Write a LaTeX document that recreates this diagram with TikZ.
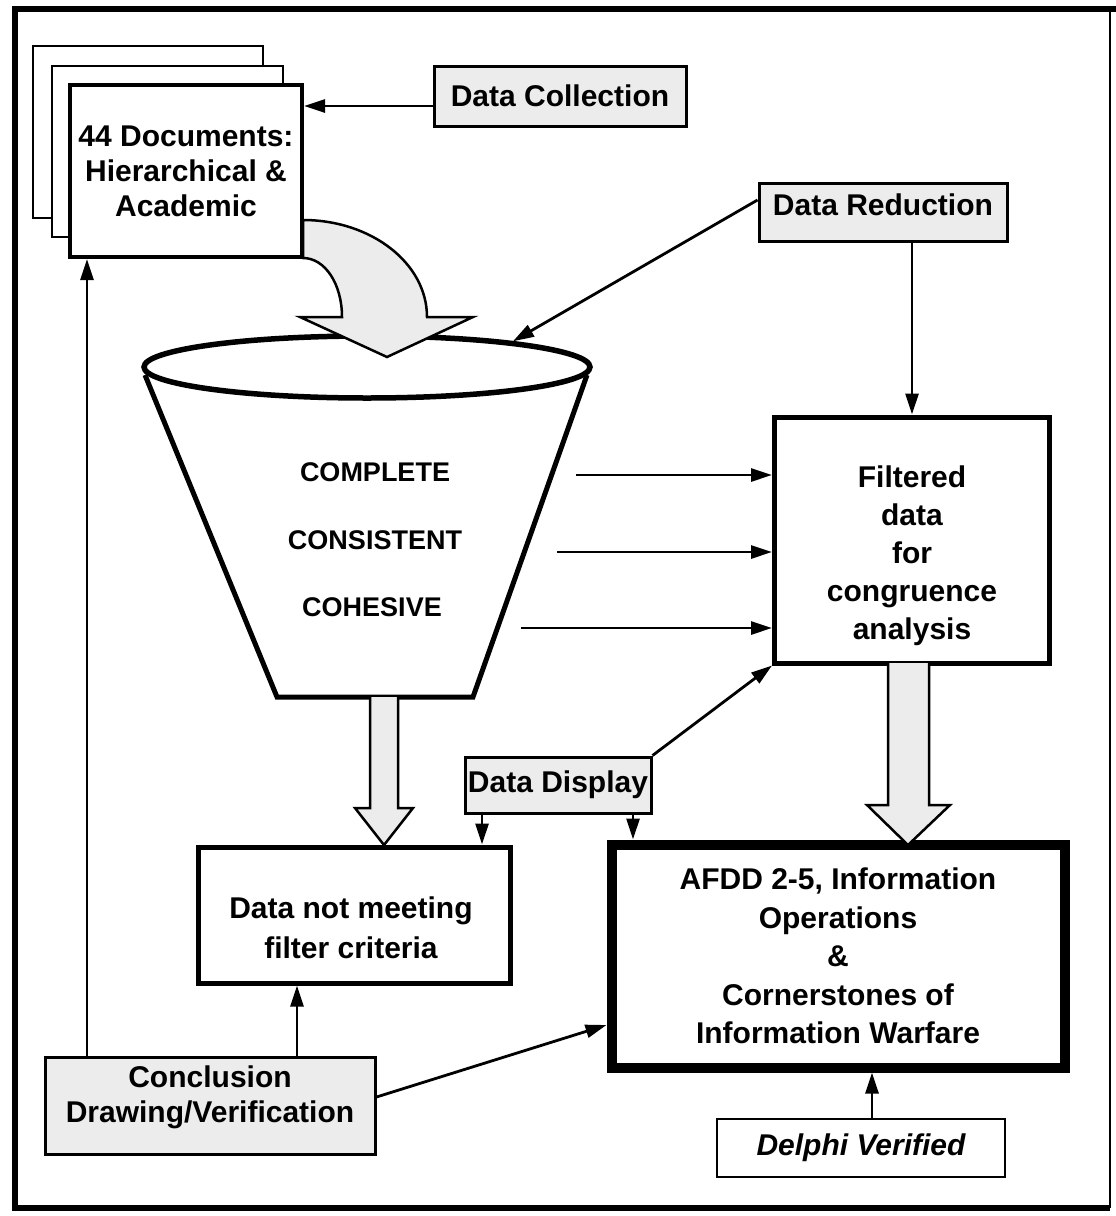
\documentclass[tikz,border=0pt]{standalone}
\usepackage{fontspec}
\setmainfont{Liberation Sans}
\usetikzlibrary{arrows.meta,shapes.geometric}
\tikzset{>={Triangle[length=21pt,width=13pt]}}

\begin{document}
\begin{tikzpicture}[x=1pt,y=-1pt,
    txt/.style={font=\bfseries\fontsize{30}{35}\selectfont, align=center, inner sep=0pt},
    capstxt/.style={font=\bfseries\fontsize{27}{32}\selectfont, inner sep=0pt},
    framebox/.style={draw, fill=white, txt},
    greybox/.style={framebox, fill=gray!15, line width=3pt},
    conn/.style={->, line width=2.8pt},
    blockarrow/.style={draw, fill=gray!15, line width=2.5pt, line join=miter}]
  \useasboundingbox (0,0) rectangle (1116,1216);
  % outer frame
  \draw[line width=6pt] (1116,9) -- (15,9) -- (15,1208) -- (1110,1208);
  \draw[line width=1.5pt] (1110,9) -- (1110,1208);

  % stack of documents
  \draw[fill=white, line width=1.5pt] (33,46) rectangle (263,218);
  \draw[fill=white, line width=1.5pt] (52,66) rectangle (283,237);
  \node[framebox, line width=4pt, minimum width=232, minimum height=172] (docs) at (186,171)
    {44 Documents:\\Hierarchical \&\\Academic};

  \node[greybox, minimum width=252, minimum height=60] (datacoll) at (560,96) {Data Collection};
  \node[greybox, minimum width=248, minimum height=58] (datared) at (883,212) {};
  \node[txt] (daredtext) at (883,205) {Data Reduction};

  % funnel
  \draw[fill=white, line width=5pt, line join=miter] (145,375) -- (277,697) -- (473,697) -- (587,375);
  \node[draw, ellipse, line width=5.5pt, fill=white, minimum width=446, minimum height=62] (rim) at (367,367) {};
  \path[blockarrow] (303,220) .. controls (371,220) and (427,263) .. (427,317) -- (473,317)
    -- (387,357) -- (300,317) -- (342,317) .. controls (342,284) and (325,258) .. (303,258) -- cycle;
  \node[capstxt] (complete) at (375,472) {COMPLETE};
  \node[capstxt] (consistent) at (375,540) {CONSISTENT};
  \node[capstxt] (cohesive) at (372,607) {COHESIVE};

  \node[framebox, line width=5pt, minimum width=275, minimum height=246] (filt) at (912,540) {};
  \node[txt, font=\bfseries\fontsize{30}{38}\selectfont] (filttext) at (912,556)
    {Filtered\\data\\for\\congruence\\analysis};

  \node[framebox, line width=5pt, minimum width=312, minimum height=136] (notmeet) at (354,915) {};
  \node[txt, font=\bfseries\fontsize{30}{40}\selectfont] (notmeettext) at (351,928)
    {Data not meeting\\filter criteria};

  \node[framebox, line width=10pt, minimum width=453, minimum height=223,
    font=\bfseries\fontsize{30}{38.5}\selectfont] (afdd) at (838,956)
    {AFDD 2-5, Information\\Operations\\\&\\Cornerstones of\\Information Warfare};

  \node[greybox, minimum width=186, minimum height=56] (datadisp) at (558,785) {Data Display};
  \node[greybox, minimum width=330, minimum height=97] (concl) at (210,1106) {};
  \node[txt] (concltext) at (210,1097) {Conclusion\\Drawing/Verification};
  \node[framebox, line width=1.5pt, minimum width=288, minimum height=58,
    font=\bfseries\itshape\fontsize{30}{35}\selectfont] (delphi) at (861,1148) {Delphi Verified};

  % block arrows
  \path[blockarrow] (370,697) -- (370,808) -- (355,808) -- (384,845) -- (413,808) -- (398,808) -- (398,697);
  \path[blockarrow] (888,663) -- (888,805) -- (867,805) -- (908,845) -- (950,805) -- (929,805) -- (929,663);

  % connectors
  \draw[conn] ([yshift=-10pt]datacoll.west) -- ([yshift=-10pt]datacoll.west -| docs.east);
  \draw[conn] ([yshift=12pt]datared.west) -- (rim.10);
  \draw[conn] (filt.north |- datared.south) -- (filt.north);
  \draw[conn] ([xshift=126pt,yshift=-3pt]complete.east) -- ([yshift=-3pt]complete.east -| filt.west);
  \draw[conn] ([xshift=95pt,yshift=-12pt]consistent.east) -- ([yshift=-12pt]consistent.east -| filt.west);
  \draw[conn] ([xshift=79pt,yshift=-21pt]cohesive.east) -- ([yshift=-21pt]cohesive.east -| filt.west);
  \draw[conn] (datadisp.north east) -- (filt.south west);
  \draw[conn] ([xshift=-76pt]datadisp.south) -- ([xshift=-76pt]datadisp.south |- notmeet.north);
  \draw[conn] ([xshift=75pt]datadisp.south) -- ([xshift=75pt]datadisp.south |- afdd.north);
  \draw[conn] ([xshift=-123pt]concl.north) -- ([xshift=-123pt]concl.north |- docs.south);
  \draw[conn] ([xshift=87pt]concl.north) -- ([xshift=87pt]concl.north |- notmeet.south);
  \draw[conn] ([yshift=9pt]concl.east) -- ([yshift=-69pt]afdd.west);
  \draw[conn] ([xshift=11pt]delphi.north) -- ([xshift=11pt]delphi.north |- afdd.south);
\end{tikzpicture}
\end{document}
